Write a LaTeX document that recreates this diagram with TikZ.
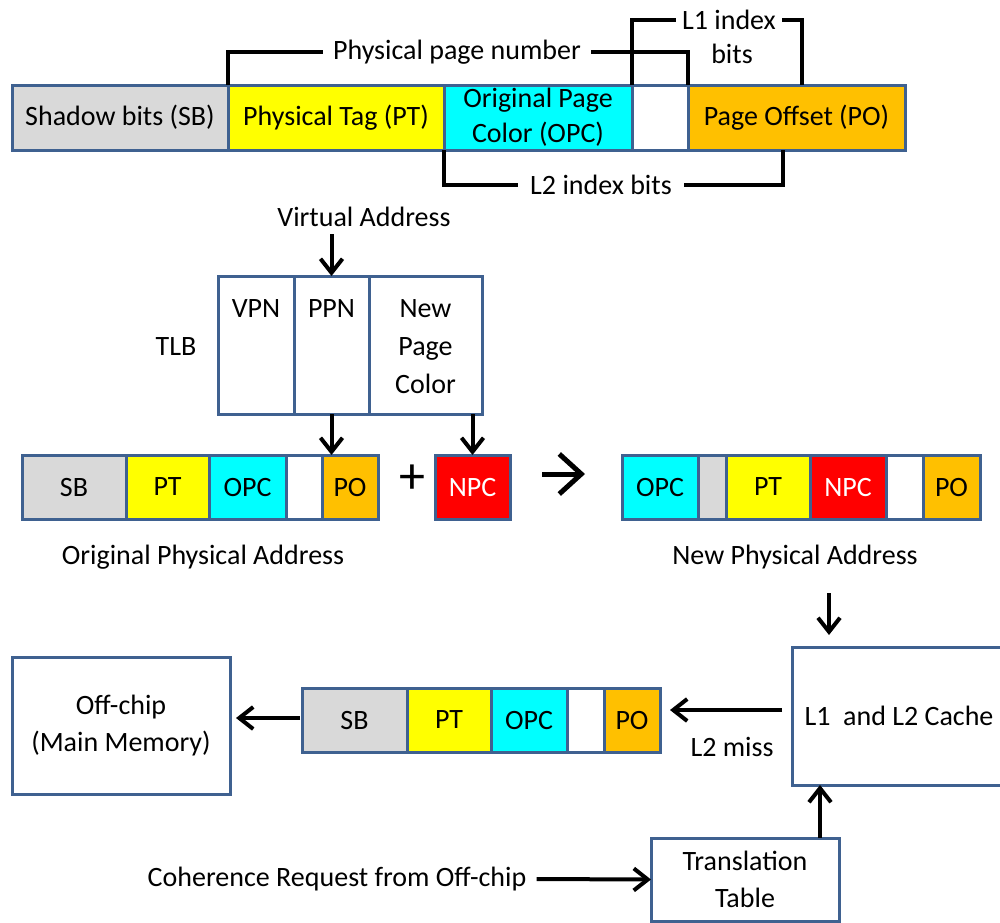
\documentclass[tikz,border=0pt]{standalone}
\usepackage{fontspec}
\setmainfont{Carlito}
\usetikzlibrary{arrows.meta}
\definecolor{bord}{HTML}{3F6190}
\definecolor{cgray}{HTML}{D9D9D9}
\definecolor{cyel}{HTML}{FFFF00}
\definecolor{ccyan}{HTML}{00FFFF}
\definecolor{corange}{HTML}{FFC000}
\definecolor{cred}{HTML}{FF0000}
\begin{document}
\begin{tikzpicture}[x=0.5pt,y=-0.5pt,
  every node/.style={font=\fontsize{14}{17.5}\selectfont},
  segT/.style={draw=bord, line width=1.5pt, inner sep=0pt, outer sep=0pt, minimum height=32.5pt, align=center},
  seg/.style={draw=bord, line width=1.5pt, inner sep=0pt, outer sep=0pt, minimum height=32pt, align=center},
  boxn/.style={draw=bord, line width=1.5pt, fill=white, inner sep=0pt, outer sep=0pt, align=center},
  txt/.style={inner sep=4pt, align=center},
  brk/.style={line width=2pt, black},
  arr/.style={line width=2pt, black, -{Straight Barb[length=7pt,width=11pt]}},
  symarr/.style={line width=2.5pt, black, -{Straight Barb[length=11pt,width=20pt]}}]
\useasboundingbox (0,0) rectangle (1000,922);

% ---------- top bar ----------
\node[segT, fill=cgray, minimum width=108pt, anchor=north west] (tsb) at (12,85) {Shadow bits (SB)};
\node[segT, fill=cyel, minimum width=108pt, anchor=west] (tpt) at (tsb.east) {Physical Tag (PT)};
\node[segT, fill=ccyan, minimum width=94pt, anchor=west] (topc) at (tpt.east) {Original Page\\Color (OPC)};
\node[segT, fill=white, minimum width=28pt, anchor=west] (tblank) at (topc.east) {};
\node[segT, fill=corange, minimum width=108.5pt, anchor=west] (tpo) at (tblank.east) {Page Offset (PO)};

% brackets
\node[txt, inner sep=5pt] (ppnum) at (457,52) {Physical page number};
\draw[brk] (tpt.north west) |- (ppnum.west);
\draw[brk] (ppnum.east) -| (tpo.north west);

\node[txt, inner sep=3pt] (l1t) at (729,20) {L1 index};
\node[txt] (l1b) at (732,54) {bits};
\coordinate (l1r) at (802,85);
\draw[brk] (tblank.north west) |- (l1t.west);
\draw[brk] (l1t.east) -| (l1r);

\node[txt, inner sep=6pt] (l2t) at (601,185) {L2 index bits};
\coordinate (l2r) at (783,150);
\draw[brk] (topc.south west) |- (l2t.west);
\draw[brk] (l2t.east) -| (l2r);

% ---------- TLB ----------
\node[txt] (va) at (364,217) {Virtual Address};
\node[boxn, minimum width=38pt, minimum height=69pt, anchor=north west] (vpn) at (218,276) {};
\node[boxn, minimum width=37.5pt, minimum height=69pt, anchor=west] (ppn) at (vpn.east) {};
\node[boxn, minimum width=56.5pt, minimum height=69pt, anchor=west] (npcc) at (ppn.east) {};
\node[txt] (vpnl) at (vpn.north |- 0,309) {VPN};
\node[txt] (ppnl) at (ppn.north |- 0,309) {PPN};
\node[txt, font=\fontsize{14}{19}\selectfont] (npcl) at (npcc.north |- 0,347) {New\\Page\\Color};
\node[txt] (tlb) at (176,347) {TLB};
\draw[arr] (ppn.north |- 0,234) -- (ppn.north);

% ---------- middle left bar ----------
\node[seg, fill=cgray, minimum width=52pt, anchor=north west] (lsb) at (22,455) {SB};
\node[seg, fill=cyel, minimum width=41.5pt, anchor=west] (lpt) at (lsb.east) {PT};
\node[seg, fill=ccyan, minimum width=38.5pt, anchor=west] (lopc) at (lpt.east) {OPC};
\node[seg, fill=white, minimum width=18pt, anchor=west] (lblank) at (lopc.east) {};
\node[seg, fill=corange, minimum width=28pt, anchor=west] (lpo) at (lblank.east) {PO};
\node[txt] (opa) at (203,557) {Original Physical Address};

\node[font=\fontsize{26}{30}\selectfont, inner sep=0pt] (plus) at (412,479) {+};
\node[seg, fill=cred, text=white, minimum width=37.5pt, anchor=north west] (npc) at (435,455) {NPC};

\draw[arr] (ppn.south) -- (ppn.south |- lpo.north);
\draw[arr] (npc.north |- npcc.south) -- (npc.north);

\coordinate (sya) at (542,474);
\coordinate (syb) at (585,474);
\draw[symarr] (sya) -- (syb);

% ---------- middle right bar ----------
\node[seg, fill=ccyan, minimum width=38pt, anchor=north west] (ropc) at (622,455) {OPC};
\node[seg, fill=cgray, minimum width=14pt, anchor=west] (rsb) at (ropc.east) {};
\node[seg, fill=cyel, minimum width=42pt, anchor=west] (rpt) at (rsb.east) {PT};
\node[seg, fill=cred, text=white, minimum width=38pt, anchor=west] (rnpc) at (rpt.east) {NPC};
\node[seg, fill=white, minimum width=18.5pt, anchor=west] (rblank) at (rnpc.east) {};
\node[seg, fill=corange, minimum width=28.5pt, anchor=west] (rpo) at (rblank.east) {PO};
\node[txt] (npa) at (795,557) {New Physical Address};

% ---------- cache ----------
\node[boxn, minimum width=107pt, minimum height=69pt, anchor=north west] (cache) at (792,647) {L1\ \ and L2 Cache};
\coordinate (cin) at (829,593);
\draw[arr, shorten >=6pt] (cin) -- (cin |- cache.north);

% ---------- bottom bar ----------
\node[seg, fill=cgray, minimum width=52.5pt, anchor=north west] (bsb) at (302,688) {SB};
\node[seg, fill=cyel, minimum width=42pt, anchor=west] (bpt) at (bsb.east) {PT};
\node[seg, fill=ccyan, minimum width=38pt, anchor=west] (bopc) at (bpt.east) {OPC};
\node[seg, fill=white, minimum width=18.5pt, anchor=west] (bblank) at (bopc.east) {};
\node[seg, fill=corange, minimum width=28pt, anchor=west] (bpo) at (bblank.east) {PO};

\draw[arr, shorten <=5pt, shorten >=5pt] ([yshift=3pt]cache.west) -- ([yshift=3pt]cache.west -| bpo.east);
\node[txt] (miss) at (732,747) {L2 miss};

\node[boxn, minimum width=109pt, minimum height=68.5pt, anchor=north west, font=\fontsize{14}{18.5}\selectfont] (off) at (12,657) {Off-chip\\(Main Memory)};
\draw[arr, shorten <=1pt, shorten >=3pt] ([yshift=1pt]bsb.west) -- ([yshift=1pt]bsb.west -| off.east);

% ---------- translation table ----------
\node[boxn, minimum width=94pt, minimum height=41.5pt, anchor=north west, font=\fontsize{14}{18.5}\selectfont] (tt) at (651,838) {Translation\\Table};
\draw[arr] ([xshift=37.5pt]tt.north) -- ([xshift=37.5pt]tt.north |- cache.south);
\node[txt, inner sep=5pt] (coh) at (337,879) {Coherence Request from Off-chip};
\draw[arr] (coh.east) -- (tt.west);
\end{tikzpicture}
\end{document}
